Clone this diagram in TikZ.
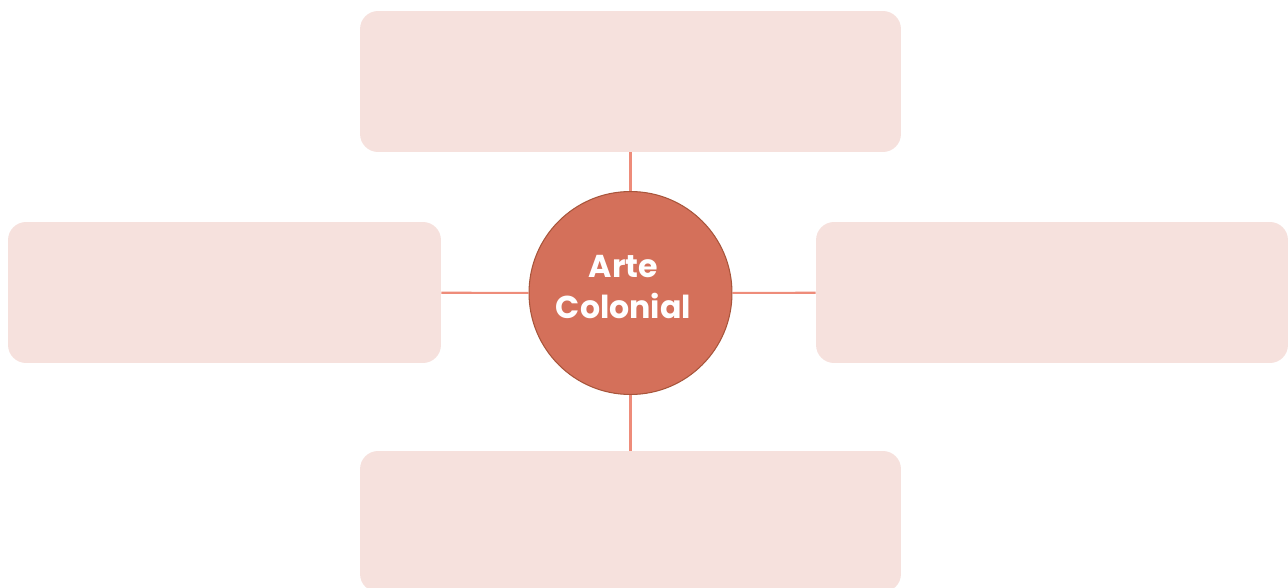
\documentclass[tikz,border=0pt]{standalone}
\usepackage{fontspec}
\setmainfont{Poppins}
\usepackage{tikz}
\usetikzlibrary{positioning}
\definecolor{boxpink}{HTML}{F6E1DD}
\definecolor{hubred}{HTML}{D4705A}
\definecolor{hubrim}{HTML}{A8553B}
\definecolor{spokered}{HTML}{EE8C7A}
\tikzset{ideabox/.style={rectangle,fill=boxpink,rounded corners=0.36cm,minimum height=2.82cm,inner sep=0},
    hubnode/.style={circle,fill=hubred,draw=hubrim,line width=0.6pt,minimum size=4.06cm,inner sep=0},
    hubtext/.style={text=white,font=\bfseries\fontsize{18}{23.8}\selectfont,align=center},
    spoke/.style={draw=spokered,line width=1.2pt}}

\begin{document}
\begin{tikzpicture}[x=0.02cm,y=-0.02cm]

\useasboundingbox (0,0) rectangle (1288,588);

% four empty boxes

\node (top) at (630.5,81.5) [ideabox,minimum width=10.82cm] {};
\node (left) at (224.5,292.5) [ideabox,minimum width=8.66cm] {};
\node (right) at (1052,292.5) [ideabox,minimum width=9.44cm] {};
\node (bottom) at (630.5,521.5) [ideabox,minimum width=10.82cm] {};

% central topic

\node (hub) at (630.5,293) [hubnode] {};
\node (hubtitle) at (623.5,287) [hubtext] {Arte\\Colonial};

\draw [spoke] (hub) -- (top);
\draw [spoke] (hub) -- (bottom);
\draw [spoke] (hub) -- (left);
\draw [spoke] (hub) -- (right);

\end{tikzpicture}
\end{document}
